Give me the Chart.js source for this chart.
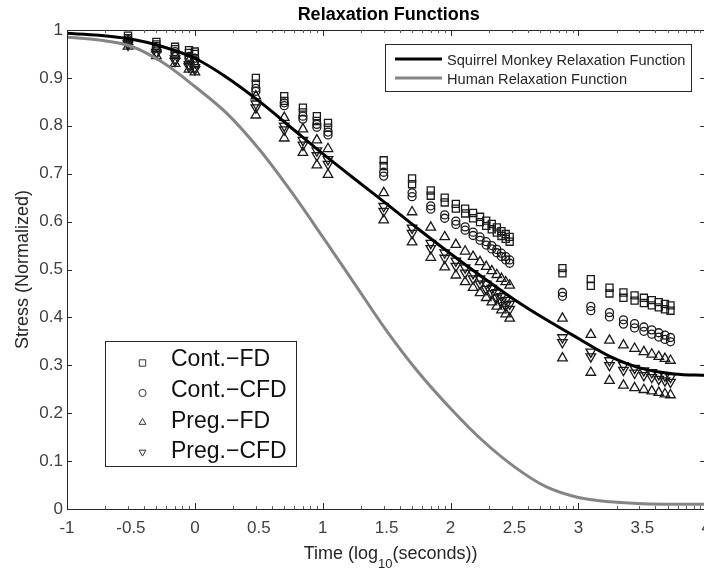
<!DOCTYPE html>
<html>
<head>
<meta charset="utf-8">
<script src="https://cdn.jsdelivr.net/npm/chart.js@4"></script>
<style>
html, body { margin: 0; padding: 0; background: #fff; overflow: hidden; }
canvas { display: block; }
</style>
</head>
<body>
<canvas id="relaxChart" width="720" height="569"></canvas>
<script>
// ramp hold times in seconds (plotted as log10)
var timeSec = [0.3, 0.5, 0.7, 0.9, 1,
               3, 5, 7, 9, 11,
               30, 50, 70, 90, 110, 130, 150, 170, 190, 210, 230, 250, 270, 290,
               750, 1250, 1750, 2250, 2750, 3250, 3750, 4250, 4750, 5250];

// normalized stress, two specimens per group
var contFD1 = [0.988, 0.975, 0.965, 0.958, 0.955,
               0.900, 0.862, 0.838, 0.820, 0.806,
               0.728, 0.690, 0.665, 0.650, 0.637, 0.627, 0.618, 0.610, 0.602, 0.595, 0.588, 0.580, 0.574, 0.568,
               0.503, 0.480, 0.462, 0.452, 0.446, 0.441, 0.436, 0.432, 0.428, 0.425];
var contFD2 = [0.983, 0.970, 0.960, 0.952, 0.950,
               0.888, 0.852, 0.828, 0.810, 0.796,
               0.716, 0.678, 0.654, 0.640, 0.627, 0.617, 0.607, 0.599, 0.591, 0.584, 0.577, 0.570, 0.564, 0.558,
               0.492, 0.466, 0.450, 0.441, 0.435, 0.430, 0.425, 0.421, 0.417, 0.414];
var contCFD1 = [0.980, 0.966, 0.955, 0.945, 0.941,
                0.878, 0.848, 0.820, 0.803, 0.787,
                0.703, 0.660, 0.633, 0.614, 0.601, 0.589, 0.578, 0.568, 0.558, 0.550, 0.542, 0.534, 0.527, 0.520,
                0.452, 0.423, 0.410, 0.395, 0.387, 0.380, 0.374, 0.368, 0.363, 0.358];
var contCFD2 = [0.976, 0.962, 0.950, 0.940, 0.936,
                0.872, 0.842, 0.814, 0.797, 0.781,
                0.695, 0.652, 0.626, 0.607, 0.594, 0.582, 0.571, 0.561, 0.551, 0.543, 0.535, 0.527, 0.520, 0.513,
                0.444, 0.414, 0.401, 0.386, 0.378, 0.371, 0.365, 0.359, 0.354, 0.349];
var pregFD1 = [0.976, 0.960, 0.947, 0.936, 0.930,
               0.862, 0.817, 0.793, 0.770, 0.752,
               0.660, 0.620, 0.588, 0.568, 0.552, 0.538, 0.527, 0.516, 0.506, 0.497, 0.489, 0.481, 0.474, 0.467,
               0.398, 0.364, 0.352, 0.342, 0.335, 0.328, 0.323, 0.318, 0.314, 0.310];
var pregFD2 = [0.966, 0.946, 0.930, 0.918, 0.912,
               0.822, 0.774, 0.744, 0.718, 0.698,
               0.603, 0.557, 0.525, 0.505, 0.488, 0.474, 0.462, 0.451, 0.441, 0.432, 0.423, 0.415, 0.407, 0.398,
               0.315, 0.285, 0.268, 0.258, 0.253, 0.249, 0.246, 0.243, 0.240, 0.238];
var pregCFD1 = [0.972, 0.954, 0.940, 0.928, 0.922,
                0.846, 0.800, 0.770, 0.748, 0.730,
                0.632, 0.587, 0.555, 0.535, 0.518, 0.504, 0.492, 0.481, 0.470, 0.461, 0.452, 0.444, 0.436, 0.428,
                0.358, 0.328, 0.310, 0.300, 0.294, 0.289, 0.285, 0.281, 0.278, 0.275];
var pregCFD2 = [0.969, 0.950, 0.935, 0.923, 0.917,
                0.838, 0.792, 0.760, 0.738, 0.720,
                0.622, 0.576, 0.544, 0.524, 0.507, 0.493, 0.481, 0.470, 0.459, 0.450, 0.441, 0.433, 0.425, 0.417,
                0.348, 0.318, 0.300, 0.290, 0.284, 0.279, 0.275, 0.271, 0.268, 0.265];

// relaxation functions
var curveX = [-1, -0.75, -0.5, -0.25, 0, 0.25, 0.5, 0.75, 1, 1.25, 1.5, 1.75,
              2, 2.25, 2.5, 2.75, 3, 3.25, 3.5, 3.75, 4];
var monkeyY = [0.993, 0.989, 0.981, 0.965, 0.941, 0.901, 0.852, 0.797, 0.742, 0.689, 0.637, 0.584,
               0.533, 0.484, 0.437, 0.395, 0.356, 0.318, 0.293, 0.282, 0.279];
var humanY = [0.985, 0.979, 0.966, 0.932, 0.882, 0.826, 0.752, 0.664, 0.568, 0.470, 0.372, 0.285,
              0.210, 0.143, 0.088, 0.046, 0.024, 0.015, 0.011, 0.010, 0.010];

var yTicks = [0, 0.1, 0.2, 0.3, 0.4, 0.5, 0.6, 0.7, 0.8, 0.9, 1];
var legendCurves = ['Squirrel Monkey Relaxation Function', 'Human Relaxation Function'];
var legendMarkers = ['Cont.\u2212FD', 'Cont.\u2212CFD', 'Preg.\u2212FD', 'Preg.\u2212CFD'];

var FONT = "'Liberation Sans', Arial, sans-serif";
var AXIS = '#262626';
var MARK = '#1a1a1a';

var logTime = timeSec.map(function (t) { return Math.log10(t); });

function pts(ys) {
    return ys.map(function (y, i) { return {x: logTime[i], y: y}; });
}
function curvePts(ys) {
    return ys.map(function (y, i) { return {x: curveX[i], y: y}; });
}
function markers(ys, style, rot, r) {
    return {
        data: pts(ys),
        pointStyle: style,
        pointRotation: rot,
        pointRadius: r,
        pointBorderColor: MARK,
        pointBackgroundColor: 'rgba(0,0,0,0)',
        pointBorderWidth: 1.3,
        showLine: false
    };
}
function curve(ys, color) {
    return {
        data: curvePts(ys),
        showLine: true,
        borderColor: color,
        borderWidth: 3,
        pointRadius: 0,
        cubicInterpolationMode: 'monotone',
        fill: false
    };
}

function drawMarker(ctx, kind, x, y, r) {
    ctx.beginPath();
    if (kind === 'square') {
        ctx.rect(x - r, y - r, 2 * r, 2 * r);
    } else if (kind === 'circle') {
        ctx.arc(x, y, r, 0, Math.PI * 2);
    } else if (kind === 'up') {
        ctx.moveTo(x, y - r);
        ctx.lineTo(x + r * 0.95, y + r * 0.65);
        ctx.lineTo(x - r * 0.95, y + r * 0.65);
        ctx.closePath();
    } else {
        ctx.moveTo(x, y + r);
        ctx.lineTo(x + r * 0.95, y - r * 0.65);
        ctx.lineTo(x - r * 0.95, y - r * 0.65);
        ctx.closePath();
    }
    ctx.stroke();
}

var framePlugin = {
    id: 'frame',
    afterDraw: function (chart) {
        var ctx = chart.ctx;
        var a = chart.chartArea;
        var xs = chart.scales.x, ys = chart.scales.y;
        ctx.save();

        // axes box
        ctx.strokeStyle = AXIS;
        ctx.lineWidth = 1;
        ctx.beginPath();
        ctx.moveTo(a.left + 0.5, a.top + 0.5);
        ctx.lineTo(a.right + 0.5, a.top + 0.5);
        ctx.lineTo(a.right + 0.5, a.bottom + 0.5);
        ctx.lineTo(a.left + 0.5, a.bottom + 0.5);
        ctx.closePath();
        ctx.stroke();

        // inward ticks
        ctx.beginPath();
        yTicks.forEach(function (v) {
            var py = Math.round(ys.getPixelForValue(v)) + 0.5;
            ctx.moveTo(a.left, py); ctx.lineTo(a.left + 5, py);
            ctx.moveTo(a.right, py); ctx.lineTo(a.right - 6, py);
        });
        for (var d = -1; d <= 4; d++) {
            var px = Math.round(xs.getPixelForValue(d)) + 0.5;
            ctx.moveTo(px, a.bottom); ctx.lineTo(px, a.bottom - 6);
            ctx.moveTo(px, a.top); ctx.lineTo(px, a.top + 6);
        }
        ctx.stroke();
        ctx.strokeStyle = '#5a5a5a';
        ctx.beginPath();
        for (d = -1; d < 4; d++) {
            for (var k = 2; k <= 9; k++) {
                px = Math.round(xs.getPixelForValue(d + Math.log10(k))) + 0.5;
                ctx.moveTo(px, a.bottom); ctx.lineTo(px, a.bottom - 3);
                ctx.moveTo(px, a.top); ctx.lineTo(px, a.top + 3);
            }
        }
        ctx.stroke();

        // title
        var cx = (a.left + a.right) / 2;
        ctx.fillStyle = '#000';
        ctx.textAlign = 'center';
        ctx.textBaseline = 'alphabetic';
        ctx.font = 'bold 18px ' + FONT;
        ctx.fillText('Relaxation Functions', cx + 2, 20);

        // x axis title with subscript
        ctx.fillStyle = AXIS;
        ctx.textAlign = 'left';
        var p1 = 'Time (log', sub = '10', p2 = '(seconds))';
        ctx.font = '18px ' + FONT;
        var w1 = ctx.measureText(p1).width, w3 = ctx.measureText(p2).width;
        ctx.font = '13px ' + FONT;
        var w2 = ctx.measureText(sub).width;
        var sx = cx + 4 - (w1 + w2 + w3) / 2;
        ctx.font = '18px ' + FONT;
        ctx.fillText(p1, sx, 559);
        ctx.font = '13px ' + FONT;
        ctx.fillText(sub, sx + w1, 568);
        ctx.font = '18px ' + FONT;
        ctx.fillText(p2, sx + w1 + w2, 559);

        // y axis title
        ctx.save();
        ctx.translate(28, (a.top + a.bottom) / 2);
        ctx.rotate(-Math.PI / 2);
        ctx.textAlign = 'center';
        ctx.fillText('Stress (Normalized)', 0, 0);
        ctx.restore();

        // curve legend (top right)
        ctx.fillStyle = '#fff';
        ctx.fillRect(385.5, 44.5, 306, 47);
        ctx.strokeStyle = AXIS;
        ctx.lineWidth = 1;
        ctx.strokeRect(385.5, 44.5, 306, 47);
        ctx.lineWidth = 3;
        ctx.strokeStyle = '#000';
        ctx.beginPath(); ctx.moveTo(395, 59); ctx.lineTo(442, 59); ctx.stroke();
        ctx.strokeStyle = '#858585';
        ctx.beginPath(); ctx.moveTo(395, 78); ctx.lineTo(442, 78); ctx.stroke();
        ctx.fillStyle = AXIS;
        ctx.font = '14.6px ' + FONT;
        ctx.textAlign = 'left';
        ctx.fillText(legendCurves[0], 447, 64.5);
        ctx.fillText(legendCurves[1], 447, 83.5);

        // marker legend (bottom left)
        ctx.fillStyle = '#fff';
        ctx.fillRect(105.5, 341.5, 191, 125);
        ctx.strokeStyle = AXIS;
        ctx.lineWidth = 1;
        ctx.strokeRect(105.5, 341.5, 191, 125);
        var kinds = ['square', 'circle', 'up', 'down'];
        var markY = [363, 393, 422, 452.5];
        var textY = [366, 397, 427.5, 458];
        ctx.strokeStyle = '#333';
        kinds.forEach(function (kd, i) {
            drawMarker(ctx, kd, 142.5, markY[i], kd === 'square' ? 3.2 : 3.6);
        });
        ctx.fillStyle = '#111';
        ctx.font = '23px ' + FONT;
        legendMarkers.forEach(function (t, i) {
            ctx.fillText(t, 171, textY[i]);
        });

        ctx.restore();
    }
};

var ctx = document.getElementById('relaxChart').getContext('2d');
new Chart(ctx, {
    type: 'scatter',
    data: {
        datasets: [
            curve(monkeyY, '#000'),
            curve(humanY, '#858585'),
            markers(contFD1, 'rect', 0, 5),
            markers(contFD2, 'rect', 0, 5),
            markers(contCFD1, 'circle', 0, 4),
            markers(contCFD2, 'circle', 0, 4),
            markers(pregFD1, 'triangle', 0, 5.5),
            markers(pregFD2, 'triangle', 0, 5.5),
            markers(pregCFD1, 'triangle', 180, 5.5),
            markers(pregCFD2, 'triangle', 180, 5.5)
        ]
    },
    options: {
        responsive: false,
        animation: false,
        events: [],
        layout: {padding: {top: 30, right: 12, left: 0, bottom: 0}},
        plugins: {
            legend: {display: false},
            tooltip: {enabled: false},
            title: {display: false}
        },
        scales: {
            x: {
                type: 'linear', min: -1, max: 4,
                grid: {display: false, drawTicks: false},
                border: {display: false},
                ticks: {
                    stepSize: 0.5, autoSkip: false, maxRotation: 0, padding: 9,
                    color: '#404040', font: {family: FONT, size: 17},
                    callback: function (v) { return String(Math.round(v * 10) / 10); }
                },
                afterFit: function (s) { s.height = 60; }
            },
            y: {
                type: 'linear', min: 0, max: 1,
                grid: {display: false, drawTicks: false},
                border: {display: false},
                ticks: {
                    stepSize: 0.1, padding: 4,
                    color: '#404040', font: {family: FONT, size: 17},
                    callback: function (v) { return String(Math.round(v * 10) / 10); }
                },
                afterFit: function (s) { s.width = 67; }
            }
        }
    },
    plugins: [framePlugin]
});
</script>
</body>
</html>
